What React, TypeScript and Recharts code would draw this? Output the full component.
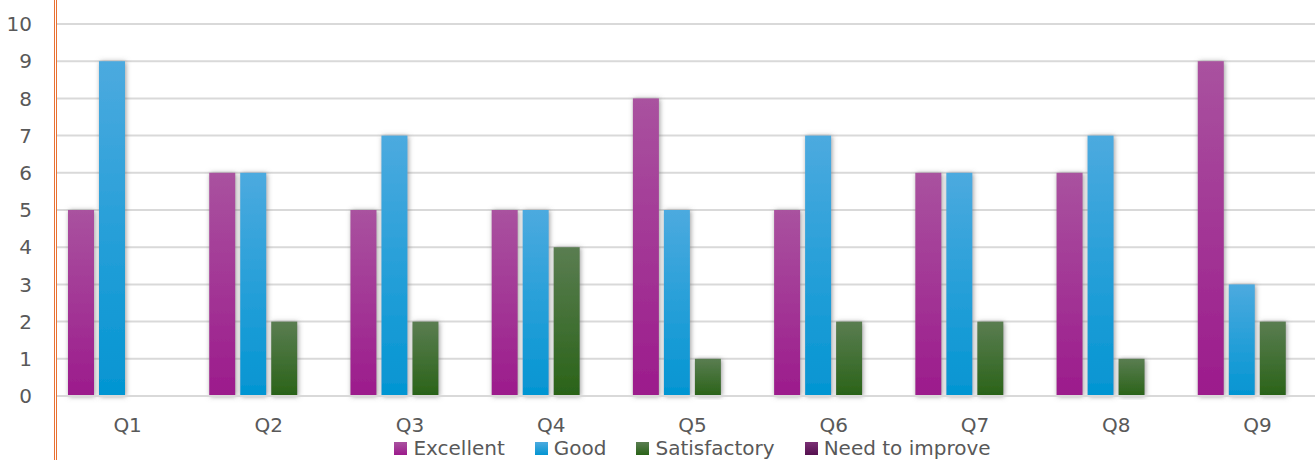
import { BarChart, Bar, XAxis, YAxis, CartesianGrid, Legend } from "recharts";

const questions = ["Q1", "Q2", "Q3", "Q4", "Q5", "Q6", "Q7", "Q8", "Q9"];
const excellent = [5, 6, 5, 5, 8, 5, 6, 6, 9];
const good = [9, 6, 7, 5, 5, 7, 6, 7, 3];
const satisfactory = [0, 2, 2, 4, 1, 2, 2, 1, 2];
const needToImprove = [0, 0, 0, 0, 0, 0, 0, 0, 0];
const yTicks = [0, 1, 2, 3, 4, 5, 6, 7, 8, 9, 10];

const seriesInfo = [
  { key: "Excellent", top: "#A9529F", bottom: "#9C1B8C" },
  { key: "Good", top: "#4CAADF", bottom: "#0395D2" },
  { key: "Satisfactory", top: "#5A7D51", bottom: "#2A6318" },
  { key: "Need to improve", top: "#7A3074", bottom: "#55104F" },
];

const chartData = questions.map((q, i) => ({
  name: q,
  Excellent: excellent[i],
  Good: good[i],
  Satisfactory: satisfactory[i],
  "Need to improve": needToImprove[i],
}));

const FONT = "'DejaVu Sans', sans-serif";
const TEXT = "#595959";

function ShadowBar(props: any) {
  const { x, y, width, height, fill } = props;
  if (!height || height <= 0) return null;
  return <rect x={x} y={y} width={width} height={height} fill={fill} filter="url(#barShadow)" />;
}

function LegendBox() {
  return (
    <div style={{ display: "flex", justifyContent: "center", alignItems: "center", height: 24, fontFamily: FONT, fontSize: 20, color: TEXT, gap: 30 }}>
      {seriesInfo.map((s) => (
        <div key={s.key} style={{ display: "flex", alignItems: "center", whiteSpace: "nowrap" }}>
          <span style={{ display: "inline-block", width: 13, height: 13, marginRight: 6, background: `linear-gradient(${s.top}, ${s.bottom})` }} />
          <span style={{ lineHeight: "24px" }}>{s.key}</span>
        </div>
      ))}
    </div>
  );
}

export default function App() {
  return (
    <div style={{ position: "absolute", left: 0, top: 0, width: 1315, height: 460, overflow: "hidden", background: "#fff" }}>
      <BarChart
        width={1340}
        height={460}
        data={chartData}
        margin={{ top: 24, right: 12, bottom: 0, left: 0 }}
        barCategoryGap={11}
        barGap={5}
      >
        <defs>
          {seriesInfo.map((s, i) => (
            <linearGradient key={s.key} id={`grad${i}`} x1="0" y1="0" x2="0" y2="1">
              <stop offset="0%" stopColor={s.top} />
              <stop offset="100%" stopColor={s.bottom} />
            </linearGradient>
          ))}
          <filter id="barShadow" x="-40%" y="-10%" width="180%" height="120%">
            <feDropShadow dx="1" dy="0.5" stdDeviation="2.5" floodColor="#6f6f6f" floodOpacity="0.7" />
          </filter>
        </defs>
        <CartesianGrid vertical={false} stroke="#D9D9D9" strokeWidth={2} />
        <XAxis
          dataKey="name"
          height={40}
          tickLine={false}
          tickSize={0}
          tickMargin={22}
          axisLine={{ stroke: "#D9D9D9", strokeWidth: 2 }}
          tick={{ fill: TEXT, fontSize: 20, fontFamily: FONT }}
        />
        <YAxis
          width={57}
          domain={[0, 10]}
          ticks={yTicks}
          interval={0}
          axisLine={false}
          tickLine={false}
          tickSize={0}
          tickMargin={25}
          tick={{ fill: TEXT, fontSize: 20, fontFamily: FONT }}
        />
        <Legend
          verticalAlign="bottom"
          content={<LegendBox />}
          wrapperStyle={{ left: 57, width: 1271, height: 24, bottom: 0 }}
        />
        {seriesInfo.map((s, i) => (
          <Bar key={s.key} dataKey={s.key} fill={`url(#grad${i})`} shape={<ShadowBar />} isAnimationActive={false} />
        ))}
      </BarChart>
      <div style={{ position: "absolute", left: 54, top: 0, width: 1, height: 460, background: "#E97132" }} />
      <div style={{ position: "absolute", left: 56, top: 0, width: 1, height: 460, background: "#E97132" }} />
    </div>
  );
}
